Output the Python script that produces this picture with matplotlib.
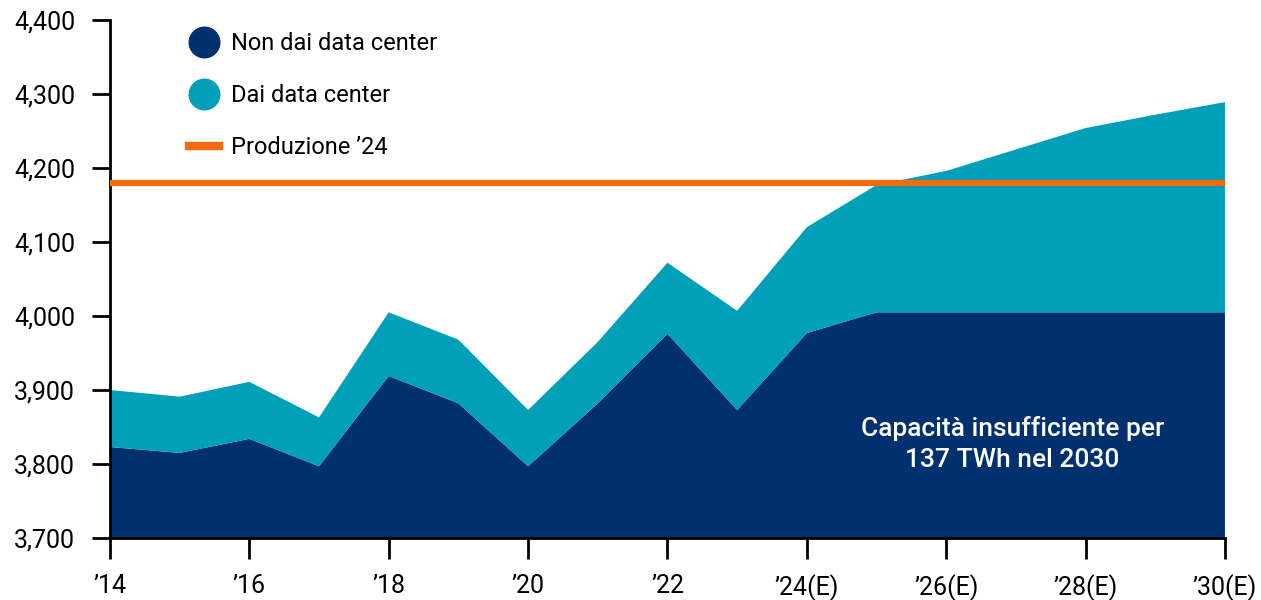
import matplotlib
matplotlib.use('Agg')
import matplotlib.pyplot as plt
from matplotlib.lines import Line2D

# Values (TWh)
years = [2014, 2015, 2016, 2017, 2018, 2019, 2020, 2021, 2022,
         2023, 2024, 2025, 2026, 2027, 2028, 2029, 2030]
non_dc = [3823, 3815, 3834, 3797, 3919, 3882, 3797, 3882, 3976,
          3873, 3977, 4005, 4005, 4005, 4005, 4005, 4005]
dc = [77, 76, 77, 66, 86, 86, 76, 83, 96,
      134, 143, 172, 191, 220, 249, 267, 284]
production_24 = 4180

tick_years = [2014, 2016, 2018, 2020, 2022, 2024, 2026, 2028, 2030]
tick_labels = ["\u201914", "\u201916", "\u201918", "\u201920", "\u201922",
               "\u201924(E)", "\u201926(E)", "\u201928(E)", "\u201930(E)"]
y_ticks = [3700, 3800, 3900, 4000, 4100, 4200, 4300, 4400]

NAVY = "#00306E"
TEAL = "#00A0B8"
ORANGE = "#F26B0F"

plt.rcParams['font.family'] = ['Roboto', 'DejaVu Sans']

fig = plt.figure(figsize=(12.61, 6.0), dpi=100)
ax = fig.add_axes([0.0872, 0.1033, 0.8842, 0.8634])

ax.stackplot(years, non_dc, dc, colors=[NAVY, TEAL], linewidth=0)
ax.axhline(production_24, color=ORANGE, lw=4.5, zorder=3)

ax.set_xlim(2014, 2030)
ax.set_ylim(3700, 4400)
ax.set_yticks(y_ticks)
ax.set_yticklabels([f"{v:,}" for v in y_ticks])
ax.set_xticks(tick_years)
ax.set_xticklabels(tick_labels)

for side in ["top", "right"]:
    ax.spines[side].set_visible(False)
ax.spines["left"].set_linewidth(2)
ax.spines["bottom"].set_linewidth(2)
ax.tick_params(axis="y", length=13, width=2, labelsize=18, pad=12)
ax.tick_params(axis="x", length=15, width=2, labelsize=18, pad=11)

ax.text(2026.95, 3827, "Capacit\u00e0 insufficiente per\n137 TWh nel 2030",
        color="white", fontsize=19, fontweight="medium", ha="center", va="center",
        linespacing=1.4)

handles = [
    Line2D([], [], marker="o", ls="none", color=NAVY, markersize=22),
    Line2D([], [], marker="o", ls="none", color=TEAL, markersize=22),
    Line2D([], [], color=ORANGE, lw=6),
]
labels = ["Non dai data center", "Dai data center", "Produzione \u201924"]
ax.legend(handles, labels, loc="upper left", bbox_to_anchor=(0.142, 0.962),
          bbox_transform=fig.transFigure, frameon=False, fontsize=17,
          handlelength=1.3, handletextpad=0.5, labelspacing=1.22,
          borderaxespad=0)

fig.savefig("out.png", dpi=100)
